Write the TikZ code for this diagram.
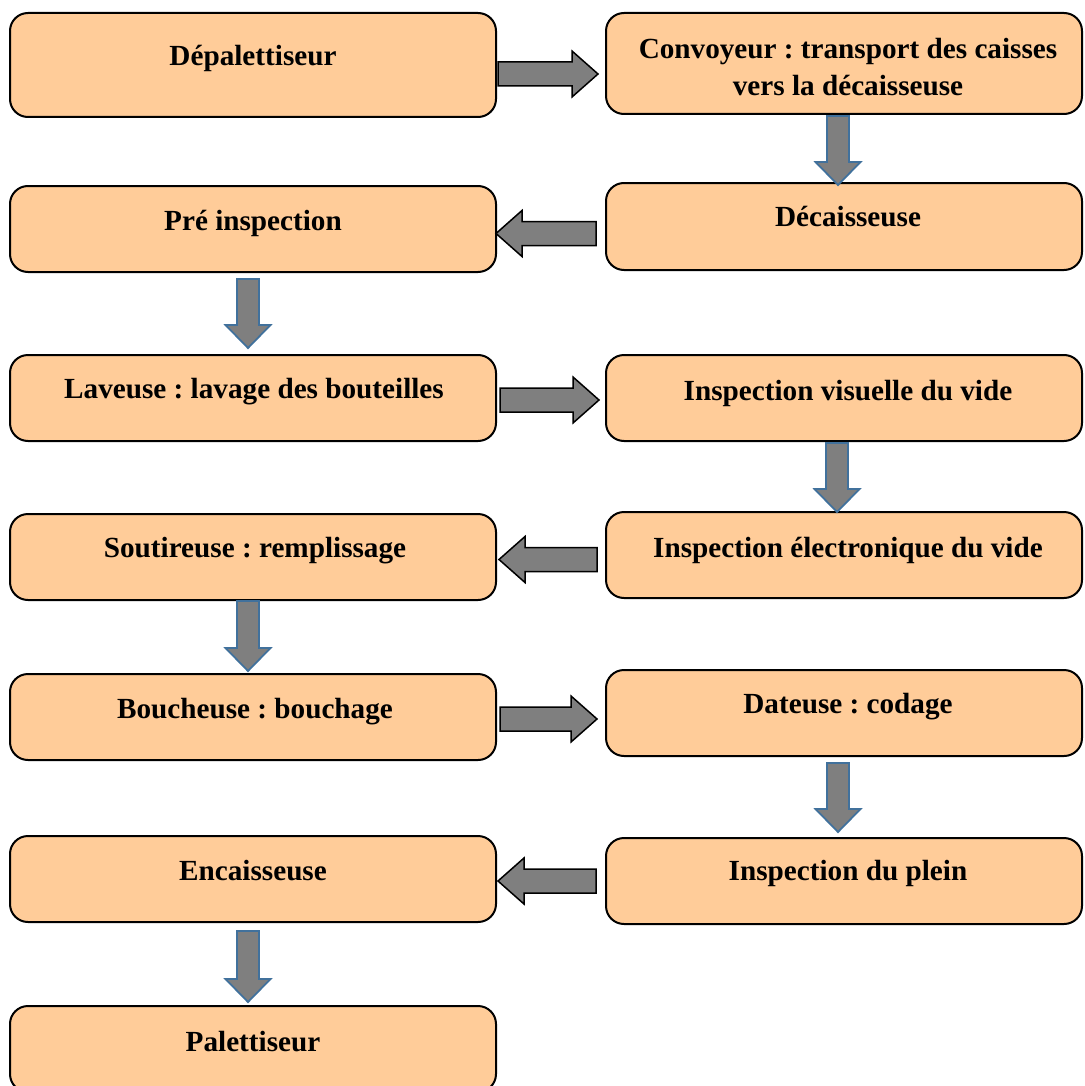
\documentclass[tikz,border=0pt]{standalone}
\usepackage{fontspec}
\setmainfont{Liberation Serif}
\usetikzlibrary{calc}
\definecolor{boxfill}{HTML}{FFCC99}
\definecolor{arrfill}{HTML}{7F7F7F}
\definecolor{arrline}{HTML}{41719C}
\frenchspacing

\begin{document}
\begin{tikzpicture}[
  x=0.5pt, y=-0.5pt,
  box/.style={draw, line width=1pt, rounded corners=9pt, fill=boxfill, inner sep=0pt},
  lbox/.style={box, minimum width=243pt, minimum height=43pt},
  rbox/.style={box, minimum width=238pt, minimum height=43pt},
  txt/.style={font=\bfseries\fontsize{14.6}{18.5}\selectfont, align=center, inner sep=0pt, anchor=base, yshift=-1.2pt},
  harr/.style={draw=black, line width=0.75pt, fill=arrfill},
  varr/.style={draw=arrline, line width=0.9pt, fill=arrfill},
  rarr/.style={harr, to path={let \p1=(\tikztostart), \p2=(\tikztotarget) in
    (\x1,\y1+6pt) -- (\x2-13pt,\y1+6pt) -- (\x2-13pt,\y1+11.5pt) -- (\x2,\y1)
    -- (\x2-13pt,\y1-11.5pt) -- (\x2-13pt,\y1-6pt) -- (\x1,\y1-6pt) -- cycle}},
  larr/.style={harr, to path={let \p1=(\tikztostart), \p2=(\tikztotarget) in
    (\x1,\y1+6pt) -- (\x2+13pt,\y1+6pt) -- (\x2+13pt,\y1+11.5pt) -- (\x2,\y1)
    -- (\x2+13pt,\y1-11.5pt) -- (\x2+13pt,\y1-6pt) -- (\x1,\y1-6pt) -- cycle}},
  darr/.style={varr, to path={let \p1=(\tikztostart), \p2=(\tikztotarget) in
    (\x1-5.5pt,\y1) -- (\x1-5.5pt,\y2+11.5pt) -- (\x1-11.25pt,\y2+11.5pt) -- (\x1,\y2)
    -- (\x1+11.25pt,\y2+11.5pt) -- (\x1+5.5pt,\y2+11.5pt) -- (\x1+5.5pt,\y1) -- cycle}}
]
\clip (0,0) rectangle (1084,1086);

\node[lbox, minimum height=52pt] (dep) at (253,65) {};
\node[rbox, minimum height=50.5pt] (conv) at (844,63.5) {};
\node[lbox] (pre) at (253,229) {};
\node[rbox, minimum height=43.5pt] (dec) at (844,226.5) {};
\node[lbox] (lav) at (253,398) {};
\node[rbox] (ivv) at (844,398) {};
\node[lbox] (sout) at (253,557) {};
\node[rbox] (iev) at (844,555) {};
\node[lbox] (bouch) at (253,717) {};
\node[rbox] (dat) at (844,713) {};
\node[lbox] (enc) at (253,879) {};
\node[rbox] (ipl) at (844,881) {};
\node[lbox] (pal) at (253,1049) {};

\node[txt] (tdep) at (253,63) {Dépalettiseur};
\node[txt] (tconv) at (848,93) {Convoyeur : transport des caisses\\vers la décaisseuse};
\node[txt] (tpre) at (253,228) {Pré inspection};
\node[txt] (tdec) at (848,224) {Décaisseuse};
\node[txt] (tlav) at (254,396) {Laveuse : lavage des bouteilles};
\node[txt] (tivv) at (848,398) {Inspection visuelle du vide};
\node[txt] (tsout) at (255,555) {Soutireuse : remplissage};
\node[txt] (tiev) at (848,555) {Inspection électronique du vide};
\node[txt] (tbouch) at (255,716) {Boucheuse : bouchage};
\node[txt] (tdat) at (848,711) {Dateuse : codage};
\node[txt] (tenc) at (253,878) {Encaisseuse};
\node[txt] (tipl) at (848,878) {Inspection du plein};
\node[txt] (tpal) at (253,1049) {Palettiseur};

\draw[rarr] ($(dep.east)+(1,9)$) to ($(conv.west)+(-7,0)$);
\draw[darr] ($(conv.south)+(-6,1)$) to ($(dec.north)+(0,3)$);
\draw[larr] ($(dec.west)+(-9,7)$) to ($(pre.east)+(-1,0)$);
\draw[darr] ($(pre.south)+(-5,6)$) to ($(lav.north)+(0,-6)$);
\draw[rarr] ($(lav.east)+(3,2)$) to ($(ivv.west)+(-6,0)$);
\draw[darr] ($(ivv.south)+(-7,1)$) to ($(iev.north)+(0,1)$);
\draw[larr] ($(iev.west)+(-8,4.5)$) to ($(sout.east)+(2,0)$);
\draw[darr] ($(sout.south)+(-5,0)$) to ($(bouch.north)+(0,-2)$);
\draw[rarr] ($(bouch.east)+(3,2)$) to ($(dat.west)+(-8,0)$);
\draw[darr] ($(dat.south)+(-6,6)$) to ($(ipl.north)+(0,-5)$);
\draw[larr] ($(ipl.west)+(-9,0)$) to ($(enc.east)+(1,0)$);
\draw[darr] ($(enc.south)+(-5,8)$) to ($(pal.north)+(0,-3)$);
\end{tikzpicture}
\end{document}
